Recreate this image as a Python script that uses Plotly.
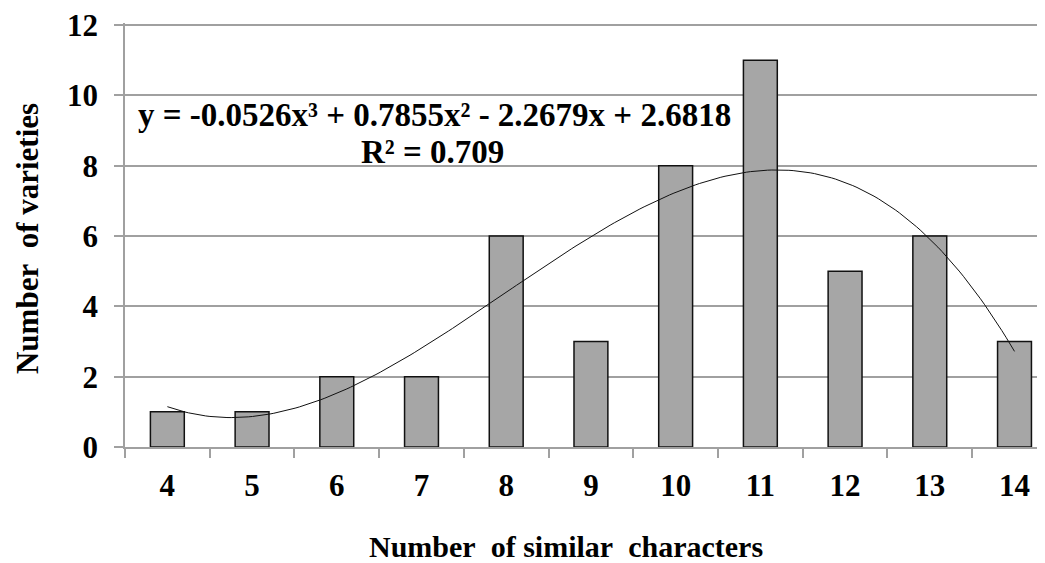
import numpy as np
import plotly.graph_objects as go

categories = ["4", "5", "6", "7", "8", "9", "10", "11", "12", "13", "14"]
varieties = [1, 1, 2, 2, 6, 3, 8, 11, 5, 6, 3]
y_ticks = [0, 2, 4, 6, 8, 10, 12]
equation_text = "y = -0.0526x³ + 0.7855x² - 2.2679x + 2.6818"
r2_text = "R² = 0.709"
x_title = "Number\u00a0 of similar\u00a0 characters"
y_title = "Number\u00a0 of varieties"

idx = np.arange(len(categories))
# Excel-style polynomial (order 3) trendline fitted to the bar values, x = 1..n
coef = np.polyfit(idx + 1, varieties, 3)
xs = np.linspace(1, len(categories), 200)
ys = np.polyval(coef, xs)

FONT = "Liberation Serif"
GRID = "#a0a0a0"

def f(size):
    return dict(family=FONT, size=size, color="#000000", weight="bold")

fig = go.Figure()
fig.add_trace(go.Bar(
    x=idx, y=varieties, width=0.4,
    marker=dict(color="#a6a6a6", line=dict(color="#111111", width=1.5)),
    showlegend=False,
))
fig.add_trace(go.Scatter(
    x=xs - 1, y=ys, mode="lines",
    line=dict(color="#111111", width=1), showlegend=False,
))

fig.update_layout(
    width=1037, height=555,
    margin=dict(l=117, r=0, t=15, b=116),
    paper_bgcolor="white", plot_bgcolor="white",
    bargap=0.6,
    font=dict(family=FONT, color="#000000"),
    xaxis=dict(
        range=[-0.5, 10.36], automargin=False,
        tickmode="array", tickvals=list(idx), ticktext=categories,
        ticks="", showgrid=False, zeroline=False,
        showline=True, linecolor=GRID, linewidth=1.5,
        tickfont=f(31), ticklabeloverflow="allow",
        ticklabelstandoff=10,
        minor=dict(tickmode="linear", tick0=-0.5, dtick=1, ticks="outside",
                   ticklen=9, tickcolor=GRID, tickwidth=1.5, showgrid=False),
    ),
    yaxis=dict(
        range=[0, 12.06], automargin=False,
        tickmode="array", tickvals=y_ticks,
        ticks="outside", ticklen=9, tickcolor=GRID, tickwidth=1.5,
        showgrid=True, gridcolor=GRID, gridwidth=1.5, zeroline=False,
        showline=True, linecolor=GRID, linewidth=1.5,
        tickfont=f(31), ticklabeloverflow="allow",
        ticklabelstandoff=10,
    ),
    annotations=[
        dict(x=3.148, y=9.44, xref="x", yref="y", text=equation_text,
             showarrow=False, xanchor="center", yanchor="middle", font=f(33)),
        dict(x=3.124, y=8.39, xref="x", yref="y", text=r2_text,
             showarrow=False, xanchor="center", yanchor="middle", font=f(33)),
        dict(x=0.479, y=-0.2335, xref="paper", yref="paper", text=x_title,
             showarrow=False, xanchor="center", yanchor="middle", font=f(30)),
        dict(x=-0.1065, y=0.4905, xref="paper", yref="paper", text=y_title,
             showarrow=False, xanchor="center", yanchor="middle", textangle=-90,
             font=f(31)),
    ],
)

fig.write_html("out.html")
